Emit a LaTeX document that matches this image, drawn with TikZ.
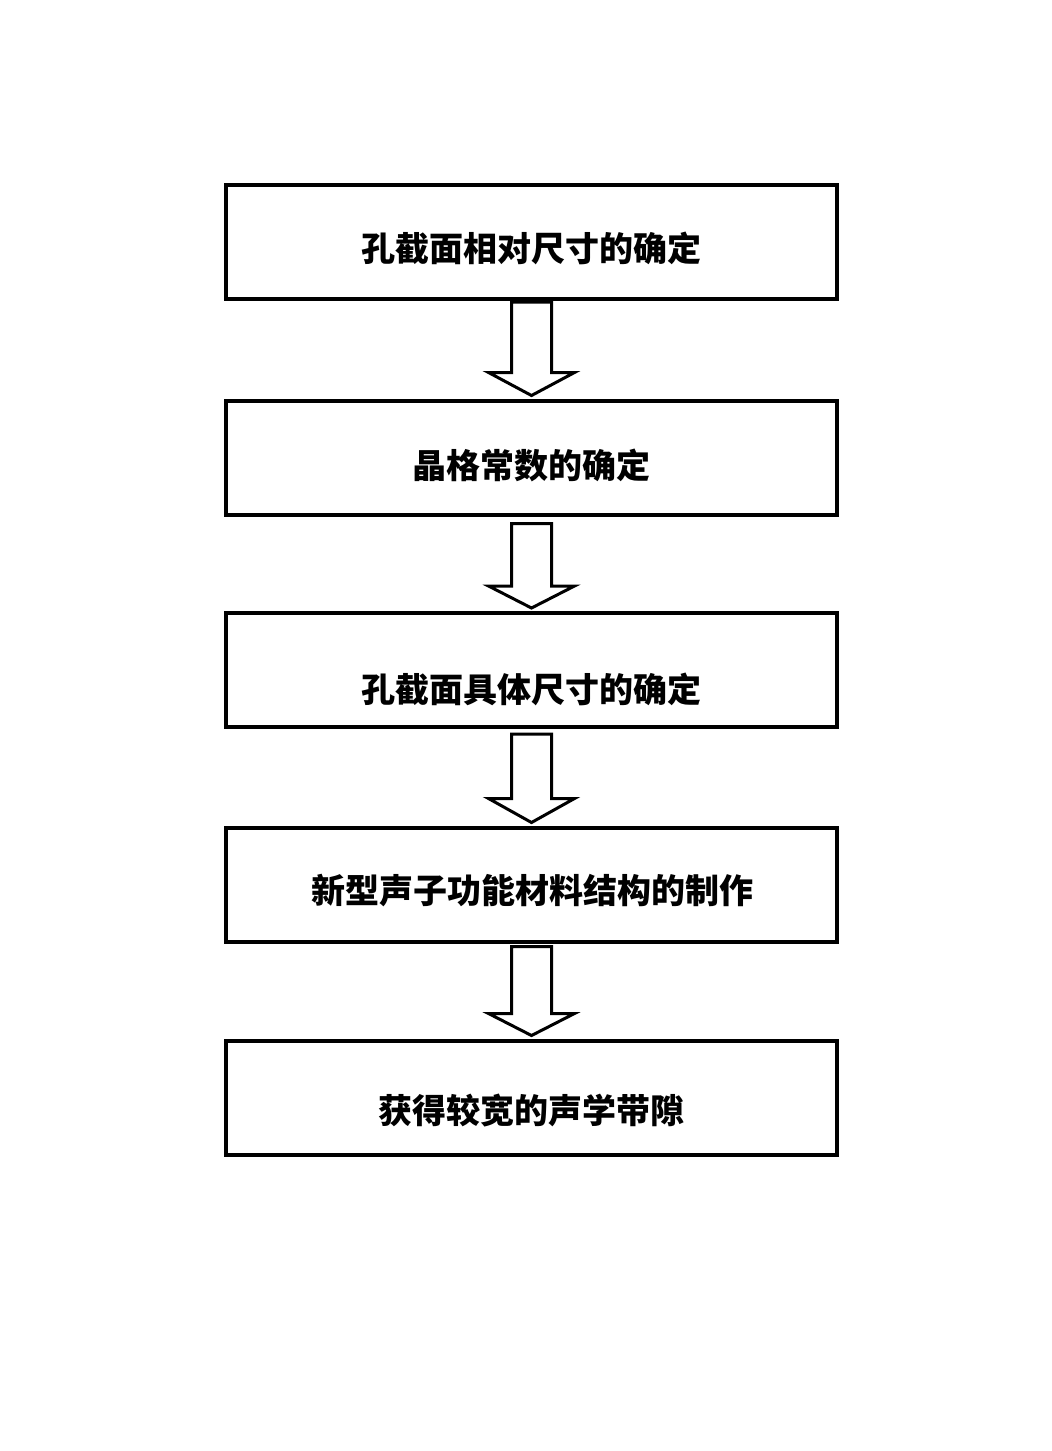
\documentclass[tikz,border=0pt]{standalone}
\usepackage{fontspec}
\newfontfamily\cjk{Noto Sans CJK SC}
\usetikzlibrary{calc}
\tikzset{
  box/.style={draw=black, line width=4pt, minimum width=611pt, minimum height=114pt, inner sep=0pt},
  lbl/.style={font=\cjk\bfseries\fontsize{34}{38}\selectfont, inner sep=0pt, anchor=center},
  blockarrow/.style={draw=black, line width=3pt, fill=white, line join=miter}
}
\begin{document}
\begin{tikzpicture}[x=1pt,y=-1pt]
\useasboundingbox (0,0) rectangle (1052,1451);
\node[box] (b1) at (531.5,242) {};
\node[box] (b2) at (531.5,457.5) {};
\node[box] (b3) at (531.5,670) {};
\node[box] (b4) at (531.5,884.5) {};
\node[box] (b5) at (531.5,1097.5) {};
\node[lbl] (t1) at (531,248) {孔截面相对尺寸的确定};
\node[lbl] (t2) at (531.5,465) {晶格常数的确定};
\node[lbl] (t3) at (531,689) {孔截面具体尺寸的确定};
\node[lbl] (t4) at (532,891) {新型声子功能材料结构的制作};
\node[lbl] (t5) at (531.5,1111) {获得较宽的声学带隙};
% block arrows: from box south to next box north
\foreach \a/\b/\s/\h in {b1/b2/1/26, b2/b3/7/25, b3/b4/5/27, b4/b5/3/25}{
  \draw[blockarrow]
    ($(\a.south)+(-20,\s)$) -- ($(\a.south)+(20,\s)$)
    -- ($(\b.north)+(20,-\h)$) -- ($(\b.north)+(43,-\h)$)
    -- ($(\b.north)+(0,-3)$)
    -- ($(\b.north)+(-43,-\h)$) -- ($(\b.north)+(-20,-\h)$) -- cycle;
}
\end{tikzpicture}
\end{document}
